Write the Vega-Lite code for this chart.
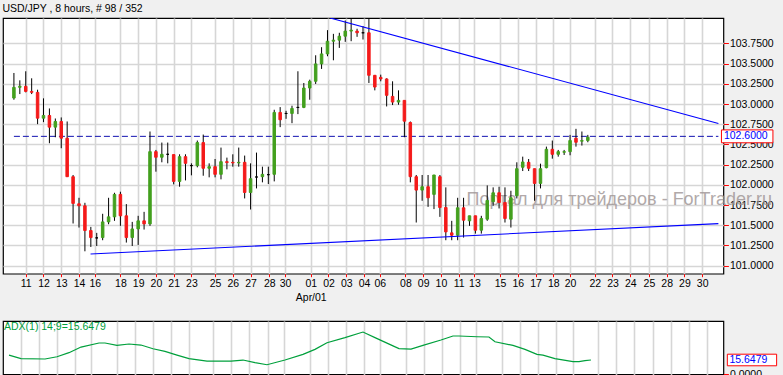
{
  "$schema": "https://vega.github.io/schema/vega-lite/v6.json",
  "background": "#f0f0f0",
  "padding": {"left": 2, "top": 3, "right": 8, "bottom": 0},
  "title": {"text": "USD/JPY , 8 hours, # 98 / 352", "anchor": "start", "font": "Liberation Sans", "fontSize": 10.5, "fontWeight": "normal", "color": "#000000", "offset": 3},
  "spacing": 16,
  "config": {
    "view": {"fill": "white", "stroke": "black", "strokeWidth": 1.2},
    "font": "Liberation Sans",
    "axis": {"labelFont": "Liberation Sans", "labelFontSize": 10.5, "labelColor": "#000000", "tickColor": "#ff0000", "gridColor": "#d6d6d6", "gridWidth": 1.6, "domain": false, "title": null, "labelOverlap": false, "labelFlush": false}
  },
  "datasets": {
    "candles": [
      {"i":0,"open":103.074,"high":103.384,"low":103.053,"close":103.206},
      {"i":1,"open":103.206,"high":103.293,"low":103.123,"close":103.219},
      {"i":2,"open":103.219,"high":103.405,"low":103.144,"close":103.156},
      {"i":3,"open":103.156,"high":103.318,"low":103.123,"close":103.144},
      {"i":4,"open":103.144,"high":103.177,"low":102.751,"close":102.825},
      {"i":5,"open":102.825,"high":103.070,"low":102.776,"close":102.858},
      {"i":6,"open":102.858,"high":102.945,"low":102.515,"close":102.714},
      {"i":7,"open":102.714,"high":102.821,"low":102.589,"close":102.784},
      {"i":8,"open":102.784,"high":102.834,"low":102.453,"close":102.577},
      {"i":9,"open":102.577,"high":102.784,"low":102.097,"close":102.101},
      {"i":10,"open":102.101,"high":102.122,"low":101.522,"close":101.770},
      {"i":11,"open":101.766,"high":101.840,"low":101.472,"close":101.741},
      {"i":12,"open":101.741,"high":101.778,"low":101.178,"close":101.435},
      {"i":13,"open":101.435,"high":101.480,"low":101.232,"close":101.348},
      {"i":14,"open":101.344,"high":101.406,"low":101.244,"close":101.344},
      {"i":15,"open":101.348,"high":101.642,"low":101.315,"close":101.542},
      {"i":16,"open":101.542,"high":101.840,"low":101.513,"close":101.604},
      {"i":17,"open":101.604,"high":101.902,"low":101.555,"close":101.882},
      {"i":18,"open":101.882,"high":101.915,"low":101.493,"close":101.617},
      {"i":19,"open":101.617,"high":101.762,"low":101.286,"close":101.348},
      {"i":20,"open":101.348,"high":101.542,"low":101.244,"close":101.455},
      {"i":21,"open":101.455,"high":101.617,"low":101.257,"close":101.555},
      {"i":22,"open":101.555,"high":101.666,"low":101.447,"close":101.517},
      {"i":23,"open":101.517,"high":102.660,"low":101.493,"close":102.411},
      {"i":24,"open":102.411,"high":102.432,"low":102.163,"close":102.341},
      {"i":25,"open":102.341,"high":102.523,"low":102.279,"close":102.378},
      {"i":26,"open":102.378,"high":102.523,"low":102.266,"close":102.378},
      {"i":27,"open":102.374,"high":102.374,"low":102.006,"close":102.043},
      {"i":28,"open":102.043,"high":102.378,"low":101.977,"close":102.349},
      {"i":29,"open":102.349,"high":102.378,"low":102.055,"close":102.266},
      {"i":30,"open":102.238,"high":102.266,"low":102.118,"close":102.238},
      {"i":31,"open":102.238,"high":102.548,"low":102.217,"close":102.523},
      {"i":32,"open":102.523,"high":102.622,"low":102.113,"close":102.205},
      {"i":33,"open":102.205,"high":102.266,"low":102.093,"close":102.225},
      {"i":34,"open":102.225,"high":102.320,"low":102.093,"close":102.130},
      {"i":35,"open":102.130,"high":102.461,"low":102.068,"close":102.287},
      {"i":36,"open":102.287,"high":102.337,"low":102.192,"close":102.275},
      {"i":37,"open":102.279,"high":102.378,"low":102.225,"close":102.271},
      {"i":38,"open":102.271,"high":102.461,"low":102.225,"close":102.279},
      {"i":39,"open":102.279,"high":102.362,"low":101.832,"close":101.906},
      {"i":40,"open":101.906,"high":102.266,"low":101.695,"close":102.076},
      {"i":41,"open":102.097,"high":102.399,"low":101.956,"close":102.097},
      {"i":42,"open":102.101,"high":102.225,"low":102.031,"close":102.130},
      {"i":43,"open":102.126,"high":102.225,"low":102.010,"close":102.126},
      {"i":44,"open":102.130,"high":102.929,"low":102.043,"close":102.896},
      {"i":45,"open":102.896,"high":102.962,"low":102.714,"close":102.805},
      {"i":46,"open":102.883,"high":102.916,"low":102.817,"close":102.883},
      {"i":47,"open":102.883,"high":102.979,"low":102.763,"close":102.945},
      {"i":48,"open":102.958,"high":103.405,"low":102.875,"close":102.958},
      {"i":49,"open":102.958,"high":103.260,"low":102.949,"close":103.198},
      {"i":50,"open":103.198,"high":103.301,"low":103.053,"close":103.281},
      {"i":51,"open":103.281,"high":103.603,"low":103.248,"close":103.496},
      {"i":52,"open":103.496,"high":103.703,"low":103.434,"close":103.620},
      {"i":53,"open":103.620,"high":103.914,"low":103.591,"close":103.777},
      {"i":54,"open":103.777,"high":103.868,"low":103.541,"close":103.790},
      {"i":55,"open":103.790,"high":103.881,"low":103.694,"close":103.839},
      {"i":56,"open":103.839,"high":104.034,"low":103.769,"close":103.902},
      {"i":57,"open":103.902,"high":104.055,"low":103.777,"close":103.914},
      {"i":58,"open":103.902,"high":103.931,"low":103.831,"close":103.881},
      {"i":59,"open":103.881,"high":103.964,"low":103.798,"close":103.881},
      {"i":60,"open":103.881,"high":104.070,"low":103.260,"close":103.355},
      {"i":61,"open":103.355,"high":103.359,"low":103.169,"close":103.210},
      {"i":62,"open":103.330,"high":103.363,"low":103.281,"close":103.310},
      {"i":63,"open":103.310,"high":103.318,"low":102.970,"close":103.107},
      {"i":64,"open":103.094,"high":103.281,"low":102.987,"close":103.024},
      {"i":65,"open":103.024,"high":103.169,"low":102.991,"close":103.045},
      {"i":66,"open":103.045,"high":103.045,"low":102.589,"close":102.788},
      {"i":67,"open":102.771,"high":102.784,"low":102.031,"close":102.101},
      {"i":68,"open":102.101,"high":102.122,"low":101.534,"close":101.935},
      {"i":69,"open":101.935,"high":102.122,"low":101.803,"close":101.977},
      {"i":70,"open":101.977,"high":102.122,"low":101.728,"close":101.840},
      {"i":71,"open":101.882,"high":102.122,"low":101.700,"close":102.122},
      {"i":72,"open":102.101,"high":102.122,"low":101.604,"close":101.720},
      {"i":73,"open":101.720,"high":101.969,"low":101.315,"close":101.418},
      {"i":74,"open":101.406,"high":101.555,"low":101.315,"close":101.377},
      {"i":75,"open":101.377,"high":101.840,"low":101.315,"close":101.716},
      {"i":76,"open":101.716,"high":101.840,"low":101.348,"close":101.563},
      {"i":77,"open":101.555,"high":101.617,"low":101.493,"close":101.617},
      {"i":78,"open":101.617,"high":101.617,"low":101.397,"close":101.439},
      {"i":79,"open":101.439,"high":101.617,"low":101.397,"close":101.584},
      {"i":80,"open":101.575,"high":101.993,"low":101.555,"close":101.807},
      {"i":81,"open":101.791,"high":101.969,"low":101.741,"close":101.902},
      {"i":82,"open":101.902,"high":101.977,"low":101.708,"close":101.782},
      {"i":83,"open":101.782,"high":101.969,"low":101.534,"close":101.584},
      {"i":84,"open":101.575,"high":101.927,"low":101.472,"close":101.840},
      {"i":85,"open":101.865,"high":102.279,"low":101.832,"close":102.200},
      {"i":86,"open":102.217,"high":102.349,"low":102.171,"close":102.283},
      {"i":87,"open":102.279,"high":102.320,"low":102.171,"close":102.205},
      {"i":88,"open":102.200,"high":102.200,"low":101.803,"close":102.018},
      {"i":89,"open":102.018,"high":102.262,"low":101.956,"close":102.200},
      {"i":90,"open":102.213,"high":102.473,"low":102.205,"close":102.440},
      {"i":91,"open":102.440,"high":102.548,"low":102.324,"close":102.378},
      {"i":92,"open":102.378,"high":102.432,"low":102.349,"close":102.411},
      {"i":93,"open":102.403,"high":102.432,"low":102.370,"close":102.411},
      {"i":94,"open":102.411,"high":102.618,"low":102.366,"close":102.548},
      {"i":95,"open":102.577,"high":102.693,"low":102.473,"close":102.527},
      {"i":96,"open":102.540,"high":102.660,"low":102.486,"close":102.548},
      {"i":97,"open":102.548,"high":102.618,"low":102.527,"close":102.589}
    ],
    "trend": [
      {"line":"upper","i":53.45,"price":104.064},
      {"line":"upper","i":119.07,"price":102.76},
      {"line":"lower","i":12.95,"price":101.145},
      {"line":"lower","i":119.07,"price":101.52}
    ],
    "lastline": [{"i":0,"price":102.6},{"i":119.07,"price":102.6}],
    "lastbox": [{"i":119.07,"price":102.6,"label":"102.6000"}],
    "watermark": [{"i":76.5,"price":101.755,"label":"Портал для трейдеров - ForTrader.ru"}],
    "adx": [
      {"i":0,"adx":21.0},{"i":2,"adx":17.1},{"i":6,"adx":16.7},{"i":8,"adx":19.2},{"i":10,"adx":23.6},
      {"i":12,"adx":29.7},{"i":15,"adx":34.1},{"i":16,"adx":34.1},{"i":18,"adx":31.5},{"i":20,"adx":33.0},
      {"i":22,"adx":31.9},{"i":24,"adx":27.9},{"i":26,"adx":25.0},{"i":28,"adx":21.0},{"i":30,"adx":17.1},
      {"i":33,"adx":14.5},{"i":37,"adx":14.5},{"i":39,"adx":15.6},{"i":41,"adx":12.7},{"i":43,"adx":10.5},
      {"i":46,"adx":15.6},{"i":49,"adx":21.7},{"i":51,"adx":27.2},{"i":53,"adx":34.4},{"i":56,"adx":39.9},
      {"i":59,"adx":46.0},{"i":61,"adx":39.9},{"i":64,"adx":31.0},{"i":65,"adx":28.0},{"i":67,"adx":27.5},
      {"i":69,"adx":31.5},{"i":72,"adx":37.4},{"i":74,"adx":41.7},{"i":75,"adx":41.7},{"i":78,"adx":40.9},
      {"i":80,"adx":40.6},{"i":81,"adx":35.5},{"i":84,"adx":31.5},{"i":86,"adx":27.2},{"i":88,"adx":21.7},
      {"i":89,"adx":21.0},{"i":91,"adx":17.1},{"i":94,"adx":13.8},{"i":95,"adx":13.8},{"i":96,"adx":14.9},
      {"i":97,"adx":15.6479}
    ],
    "adxtitle": [{"i":-1,"adx":58,"label":"ADX(1) 14;9=15.6479"}],
    "adxbox": [{"i":119.07,"adx":15.6479,"label":"15.6479"}]
  },
  "vconcat": [
    {
      "width": 720.4,
      "height": 255.7,
      "encoding": {
        "x": {"field": "i", "type": "quantitative",
          "scale": {"domain": [-1, 119.07], "nice": false, "zero": false},
          "axis": {
            "orient": "bottom", "grid": true, "tickSize": 3, "labelPadding": 2, "labelLineHeight": 13.5,
            "values": [2,5,8,11,13.67,18,21,24,27,30,34,37,40,43.17,45.83,50.17,53.17,56.17,59.17,61.83,66.17,69.17,72.17,75.17,77.83,82.17,85.17,88.17,91.17,94,98.17,101.17,104.17,107.33,110.33,113.33,116.33],
            "labelExpr": "['11','12','13','14','16','18','19','20','21','23','25','26','27','28','30',['01','Apr/01'],'02','03','04','06','08','09','10','11','13','15','16','17','18','20','22','23','24','25','28','29','30'][indexof([2,5,8,11,13.67,18,21,24,27,30,34,37,40,43.17,45.83,50.17,53.17,56.17,59.17,61.83,66.17,69.17,72.17,75.17,77.83,82.17,85.17,88.17,91.17,94,98.17,101.17,104.17,107.33,110.33,113.33,116.33], datum.value)]"
          }
        }
      },
      "layer": [
        {
          "data": {"name": "watermark"},
          "mark": {"type": "text", "align": "left", "baseline": "alphabetic", "fontSize": 18, "font": "Liberation Sans", "color": "#9e9494", "opacity": 0.8},
          "encoding": {
            "y": {"field": "price", "type": "quantitative", "scale": {"domain": [100.901, 104.064], "nice": false, "zero": false},
              "axis": {"orient": "right", "values": [101, 101.25, 101.5, 101.75, 102, 102.25, 102.5, 102.75, 103, 103.25, 103.5, 103.75], "format": ".4f", "grid": true, "tickSize": 5, "labelPadding": 1}},
            "text": {"field": "label"}
          }
        },
        {
          "data": {"name": "lastline"},
          "mark": {"type": "line", "color": "#1010b0", "strokeWidth": 1, "strokeDash": [6, 3]},
          "encoding": {
            "y": {"field": "price", "type": "quantitative", "scale": {"domain": [100.901, 104.064], "nice": false, "zero": false},
              "axis": {"orient": "right", "values": [101, 101.25, 101.5, 101.75, 102, 102.25, 102.5, 102.75, 103, 103.25, 103.5, 103.75], "format": ".4f", "grid": true, "tickSize": 5, "labelPadding": 1}}
          }
        },
        {
          "data": {"name": "candles"},
          "mark": {"type": "rule", "color": "black", "strokeWidth": 1, "clip": true},
          "encoding": {
            "y": {"field": "low", "type": "quantitative", "scale": {"domain": [100.901, 104.064], "nice": false, "zero": false},
              "axis": {"orient": "right", "values": [101, 101.25, 101.5, 101.75, 102, 102.25, 102.5, 102.75, 103, 103.25, 103.5, 103.75], "format": ".4f", "grid": true, "tickSize": 5, "labelPadding": 1}},
            "y2": {"field": "high"}
          }
        },
        {
          "data": {"name": "candles"},
          "mark": {"type": "bar", "size": 2.5, "strokeWidth": 1, "clip": true},
          "encoding": {
            "y": {"field": "open", "type": "quantitative", "scale": {"domain": [100.901, 104.064], "nice": false, "zero": false},
              "axis": {"orient": "right", "values": [101, 101.25, 101.5, 101.75, 102, 102.25, 102.5, 102.75, 103, 103.25, 103.5, 103.75], "format": ".4f", "grid": true, "tickSize": 5, "labelPadding": 1}},
            "y2": {"field": "close"},
            "fill": {"condition": [{"test": "datum.close > datum.open", "value": "#43a01e"}, {"test": "datum.close < datum.open", "value": "#f41a1a"}], "value": "black"},
            "stroke": {"condition": [{"test": "datum.close > datum.open", "value": "#43a01e"}, {"test": "datum.close < datum.open", "value": "#f41a1a"}], "value": "black"}
          }
        },
        {
          "data": {"name": "trend"},
          "mark": {"type": "line", "color": "#0000ff", "strokeWidth": 1.1, "clip": true},
          "encoding": {
            "y": {"field": "price", "type": "quantitative", "scale": {"domain": [100.901, 104.064], "nice": false, "zero": false},
              "axis": {"orient": "right", "values": [101, 101.25, 101.5, 101.75, 102, 102.25, 102.5, 102.75, 103, 103.25, 103.5, 103.75], "format": ".4f", "grid": true, "tickSize": 5, "labelPadding": 1}},
            "detail": {"field": "line"}
          }
        },
        {
          "data": {"name": "lastbox"},
          "mark": {"type": "point", "shape": "M-1,-0.25H1V0.25H-1Z", "size": 2650, "fill": "white", "stroke": "#ff0000", "strokeWidth": 1, "opacity": 1, "xOffset": 28.8},
          "encoding": {
            "y": {"field": "price", "type": "quantitative", "scale": {"domain": [100.901, 104.064], "nice": false, "zero": false},
              "axis": {"orient": "right", "values": [101, 101.25, 101.5, 101.75, 102, 102.25, 102.5, 102.75, 103, 103.25, 103.5, 103.75], "format": ".4f", "grid": true, "tickSize": 5, "labelPadding": 1}}
          }
        },
        {
          "data": {"name": "lastbox"},
          "mark": {"type": "text", "align": "left", "baseline": "middle", "dx": 5.5, "fontSize": 10.5, "font": "Liberation Sans", "color": "#0000ff"},
          "encoding": {
            "y": {"field": "price", "type": "quantitative", "scale": {"domain": [100.901, 104.064], "nice": false, "zero": false},
              "axis": {"orient": "right", "values": [101, 101.25, 101.5, 101.75, 102, 102.25, 102.5, 102.75, 103, 103.25, 103.5, 103.75], "format": ".4f", "grid": true, "tickSize": 5, "labelPadding": 1}},
            "text": {"field": "label", "type": "nominal"}
          }
        }
      ]
    },
    {
      "width": 720.4,
      "height": 53.4,
      "encoding": {
        "x": {"field": "i", "type": "quantitative",
          "scale": {"domain": [-1, 119.07], "nice": false, "zero": false},
          "axis": {"orient": "bottom", "grid": true, "labels": false, "ticks": false,
            "values": [2,5,8,11,13.67,18,21,24,27,30,34,37,40,43.17,45.83,50.17,53.17,56.17,59.17,61.83,66.17,69.17,72.17,75.17,77.83,82.17,85.17,88.17,91.17,94,98.17,101.17,104.17,107.33,110.33,113.33,116.33]}
        },
        "y": {"field": "adx", "type": "quantitative", "scale": {"domain": [0, 58], "nice": false, "zero": false},
          "axis": {"orient": "right", "values": [0], "format": ".4f", "grid": false, "tickSize": 5, "labelPadding": 1}}
      },
      "layer": [
        {
          "data": {"name": "adx"},
          "mark": {"type": "line", "color": "#00a03c", "strokeWidth": 1.2, "clip": true}
        },
        {
          "data": {"name": "adxtitle"},
          "mark": {"type": "text", "align": "left", "baseline": "top", "dx": 1, "dy": 1.5, "fontSize": 10.5, "font": "Liberation Sans", "color": "#00a03c"},
          "encoding": {"text": {"field": "label", "type": "nominal"}}
        },
        {
          "data": {"name": "adxbox"},
          "mark": {"type": "point", "shape": "M-1,-0.235H1V0.235H-1Z", "size": 2430, "fill": "white", "stroke": "#ff0000", "strokeWidth": 1, "opacity": 1, "xOffset": 28.6}
        },
        {
          "data": {"name": "adxbox"},
          "mark": {"type": "text", "align": "left", "baseline": "middle", "dx": 6, "fontSize": 10.5, "font": "Liberation Sans", "color": "#0000ff"},
          "encoding": {"text": {"field": "label", "type": "nominal"}}
        }
      ]
    }
  ]
}
